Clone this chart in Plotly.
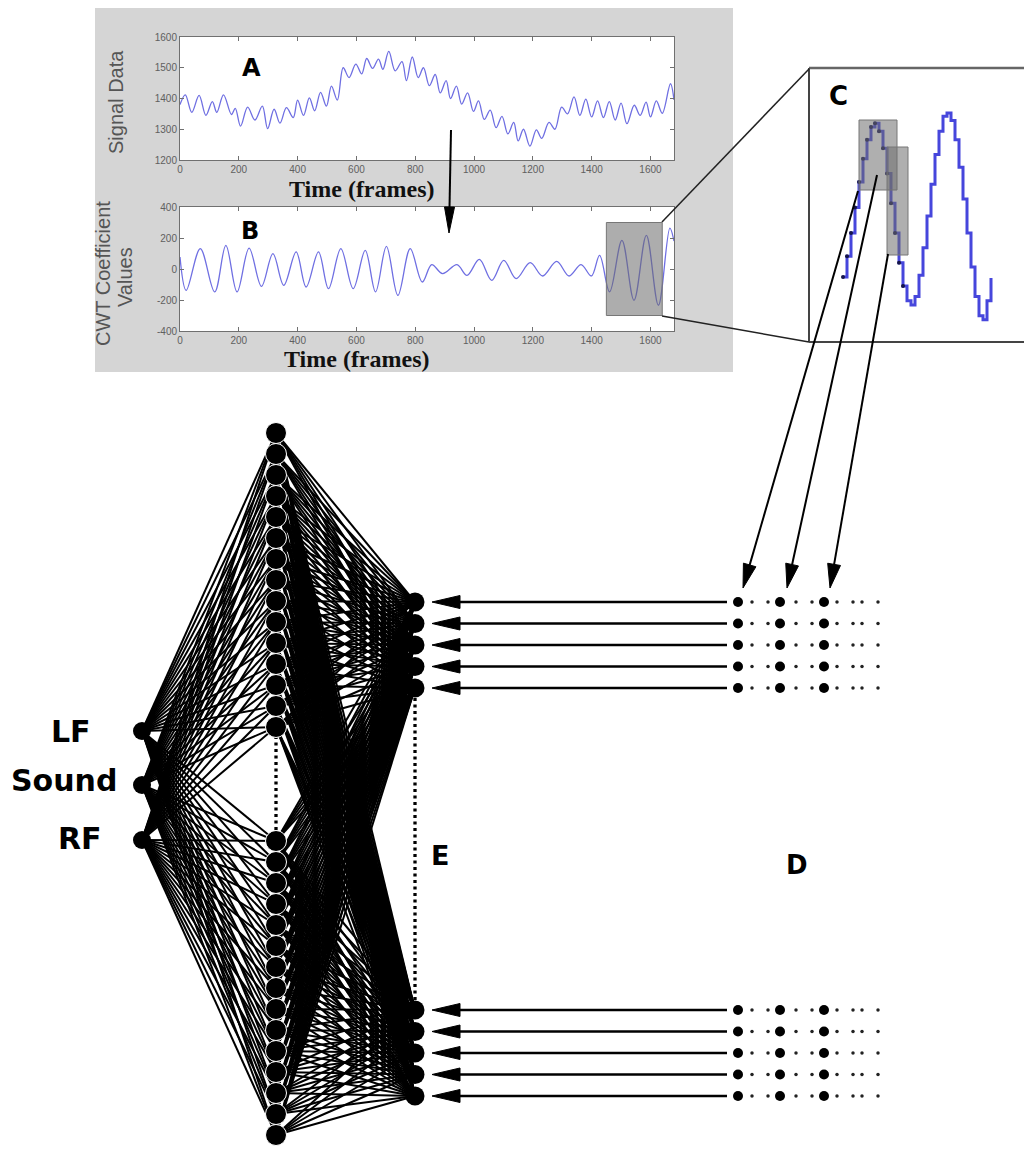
import math
import plotly.graph_objects as go

W, H = 1024, 1149

# ---------------- data ----------------
A_frames = [0, 18, 40, 65, 88, 110, 125, 148, 175, 188,
            206, 230, 255, 280, 298, 320, 340, 362, 385, 400,
            420, 440, 458, 478, 498, 515, 535, 555, 575, 598,
            618, 635, 655, 675, 690, 710, 732, 755, 770, 790,
            810, 828, 848, 868, 885, 905, 920, 940, 958, 978,
            998, 1015, 1035, 1055, 1075, 1095, 1115, 1135, 1150, 1168,
            1190, 1212, 1230, 1255, 1275, 1298, 1318, 1340, 1360, 1380,
            1400, 1420, 1440, 1460, 1480, 1500, 1520, 1545, 1565, 1585,
            1600, 1620, 1640, 1668, 1680]
A_values = [1380, 1412, 1355, 1410, 1345, 1390, 1355, 1412, 1348, 1368,
            1310, 1372, 1330, 1375, 1302, 1365, 1320, 1370, 1338, 1395,
            1345, 1402, 1360, 1420, 1375, 1440, 1395, 1500, 1468, 1512,
            1480, 1530, 1498, 1528, 1495, 1553, 1490, 1520, 1458, 1535,
            1468, 1500, 1442, 1478, 1418, 1458, 1400, 1440, 1382, 1418,
            1358, 1392, 1332, 1362, 1305, 1342, 1285, 1322, 1262, 1300,
            1245, 1298, 1270, 1322, 1300, 1372, 1350, 1405, 1345, 1398,
            1340, 1392, 1338, 1390, 1330, 1385, 1318, 1378, 1345, 1388,
            1340, 1392, 1352, 1448, 1395]

B_frames = [0, 21, 69, 118, 156, 194, 235, 277, 316, 353,
            395, 429, 471, 505, 547, 589, 630, 665, 702, 741,
            783, 824, 856, 893, 942, 976, 1018, 1060, 1101, 1143,
            1191, 1233, 1281, 1323, 1364, 1399, 1427, 1461, 1503, 1544,
            1586, 1627, 1666, 1680]
B_values = [77, -138, 131, -148, 153, -148, 135, -112, 99, -105,
            110, -116, 110, -127, 131, -127, 120, -148, 146, -170,
            131, -84, 28, -30, 28, -41, 62, -73, 56, -62,
            41, -45, 49, -45, 28, -45, 88, -148, 185, -202,
            217, -234, 264, 180]

# zoomed (sampled) CWT coefficients shown in panel C
C_steps = [-144, -95, -40, 20, 80, 135, 180, 210, 219,
           200, 160, 100, 30, -40, -110, -165, -200, -210,
           -190, -140, -75, 0, 75, 145, 200, 235, 243,
           225, 180, 115, 40, -40, -120, -190, -235, -245,
           -200, -146]
C_highlight_count = 16

frame_ticks = [0, 200, 400, 600, 800, 1000, 1200, 1400, 1600]
A_ticks = [1200, 1300, 1400, 1500, 1600]
B_ticks = [-400, -200, 0, 200, 400]
B_zoom_frames = [1450, 1640]
B_zoom_values = [-300, 300]

input_labels = ["LF", "Sound", "RF"]
HIDDEN_PER_GROUP = 15
E_PER_GROUP = 5

# ---------------- layout helpers ----------------
def dom_x(a, b):
    return [a / W, b / W]

def dom_y(top, bottom):
    return [1 - bottom / H, 1 - top / H]

fig = go.Figure()

# ---------------- network geometry ----------------
in_x = 142
in_y = [731, 785, 840]
hid_x = 276
hid_y = [433 + 21 * k for k in range(HIDDEN_PER_GROUP)] + \
        [841 + 21 * k for k in range(HIDDEN_PER_GROUP)]
e_x = 415
e_y = [602 + 21.5 * k for k in range(E_PER_GROUP)] + \
      [1010 + 21.5 * k for k in range(E_PER_GROUP)]

lx, ly = [], []
for hy in hid_y:
    for iy in in_y:
        lx += [in_x, hid_x, None]
        ly += [iy, hy, None]
    for ey in e_y:
        lx += [hid_x, e_x, None]
        ly += [hy, ey, None]
fig.add_trace(go.Scatter(x=lx, y=ly, mode="lines",
                         line=dict(color="black", width=2.0),
                         hoverinfo="skip", xaxis="x", yaxis="y"))

hid_sizes = [21 if (i == 0 or i == len(hid_y) - 1) else 21 for i in range(len(hid_y))]
fig.add_trace(go.Scatter(x=[hid_x] * len(hid_y), y=hid_y, mode="markers",
                         marker=dict(color="black", size=hid_sizes, opacity=1),
                         hoverinfo="skip", xaxis="x", yaxis="y"))
fig.add_trace(go.Scatter(x=[e_x] * len(e_y), y=e_y, mode="markers",
                         marker=dict(color="black", size=19, opacity=1),
                         hoverinfo="skip", xaxis="x", yaxis="y"))
fig.add_trace(go.Scatter(x=[in_x] * len(in_y), y=in_y, mode="markers",
                         marker=dict(color="black", size=18, opacity=1),
                         hoverinfo="skip", xaxis="x", yaxis="y"))

# D sample dots
big_cols = [738, 780, 824]
small_cols = [752, 768, 796, 812, 837, 853, 862, 878]
dbx, dby, dsx, dsy = [], [], [], []
for y in e_y:
    for x in big_cols:
        dbx.append(x); dby.append(y)
    for x in small_cols:
        dsx.append(x); dsy.append(y)
fig.add_trace(go.Scatter(x=dbx, y=dby, mode="markers",
                         marker=dict(color="black", size=10, opacity=1),
                         hoverinfo="skip", xaxis="x", yaxis="y"))
fig.add_trace(go.Scatter(x=dsx, y=dsy, mode="markers",
                         marker=dict(color="#222", size=3.5, opacity=1),
                         hoverinfo="skip", xaxis="x", yaxis="y"))

# ---------------- signal panels ----------------
sig_color = "#6f6fe2"
fig.add_trace(go.Scatter(x=A_frames, y=A_values, mode="lines",
                         line=dict(color=sig_color, width=1.3, shape="spline", smoothing=1.0),
                         hoverinfo="skip", xaxis="x2", yaxis="y2"))
fig.add_trace(go.Scatter(x=B_frames, y=B_values, mode="lines",
                         line=dict(color=sig_color, width=1.3, shape="spline", smoothing=1.0),
                         hoverinfo="skip", xaxis="x3", yaxis="y3"))
c_idx = list(range(len(C_steps)))
fig.add_trace(go.Scatter(x=c_idx, y=C_steps, mode="lines",
                         line=dict(color="#4646dc", width=3, shape="hv"),
                         hoverinfo="skip", xaxis="x4", yaxis="y4"))
fig.add_trace(go.Scatter(x=c_idx[:C_highlight_count], y=C_steps[:C_highlight_count],
                         mode="markers", marker=dict(color="#15154a", size=4, opacity=1),
                         hoverinfo="skip", xaxis="x4", yaxis="y4"))

# ---------------- axes ----------------
tick_font = dict(family="Liberation Sans, Arial", size=10, color="#606060")
common = dict(showline=True, linecolor="#707070", linewidth=1, mirror="ticks",
              ticks="inside", ticklen=4, tickcolor="#707070", showgrid=False,
              zeroline=False, tickfont=tick_font, fixedrange=True, automargin=False)

fig.update_layout(
    width=W, height=H, autosize=False,
    margin=dict(l=0, r=0, t=0, b=0, pad=0, autoexpand=False),
    paper_bgcolor="white", plot_bgcolor="rgba(0,0,0,0)",
    showlegend=False,
    xaxis=dict(domain=[0, 1], range=[0, W], visible=False, fixedrange=True,
               automargin=False),
    yaxis=dict(domain=[0, 1], range=[H, 0], visible=False, fixedrange=True,
               automargin=False),
    xaxis2=dict(domain=dom_x(180, 674), anchor="y2", range=[0, 1680],
                tickvals=frame_ticks, **common),
    yaxis2=dict(domain=dom_y(37, 160), anchor="x2", range=[1200, 1600],
                tickvals=A_ticks, **common),
    xaxis3=dict(domain=dom_x(180, 674), anchor="y3", range=[0, 1680],
                tickvals=frame_ticks, **common),
    yaxis3=dict(domain=dom_y(207, 331), anchor="x3", range=[-400, 400],
                tickvals=B_ticks, ticktext=[str(v) for v in B_ticks], **common),
    xaxis4=dict(domain=[809 / W, 1.0], anchor="y4", range=[-8.5, 45.25],
                visible=False, fixedrange=True),
    yaxis4=dict(domain=dom_y(68, 342), anchor="x4", range=[-297.2, 349.1],
                visible=False, fixedrange=True),
)

shapes = []
# gray background panel behind A and B
shapes.append(dict(type="rect", xref="x", yref="y", x0=95, x1=733, y0=8, y1=372,
                   fillcolor="#d5d5d5", line=dict(width=0), layer="below"))
# white plotting areas
shapes.append(dict(type="rect", xref="x2", yref="y2", x0=0, x1=1680, y0=1200, y1=1600,
                   fillcolor="white", line=dict(width=0), layer="below"))
shapes.append(dict(type="rect", xref="x3", yref="y3", x0=0, x1=1680, y0=-400, y1=400,
                   fillcolor="white", line=dict(width=0), layer="below"))
# zoom window in B
shapes.append(dict(type="rect", xref="x3", yref="y3",
                   x0=B_zoom_frames[0], x1=B_zoom_frames[1],
                   y0=B_zoom_values[0], y1=B_zoom_values[1],
                   fillcolor="rgba(105,105,105,0.55)", line=dict(color="#777", width=1),
                   layer="above"))
# panel C frame (open to the right edge)
shapes.append(dict(type="line", xref="x", yref="y", x0=809, x1=W, y0=68, y1=68,
                   line=dict(color="#666", width=2.5), layer="below"))
shapes.append(dict(type="line", xref="x", yref="y", x0=809, x1=W, y0=342, y1=342,
                   line=dict(color="#444", width=2), layer="below"))
shapes.append(dict(type="line", xref="x", yref="y", x0=809, x1=809, y0=68, y1=342,
                   line=dict(color="#444", width=2), layer="below"))
# zoom connector lines
shapes.append(dict(type="line", xref="x", yref="y", x0=662, y0=222, x1=809, y1=69,
                   line=dict(color="#222", width=1.5), layer="above"))
shapes.append(dict(type="line", xref="x", yref="y", x0=662, y0=316, x1=809, y1=342,
                   line=dict(color="#222", width=1.5), layer="above"))
# sampling windows in C
shapes.append(dict(type="rect", xref="x", yref="y", x0=859, x1=897, y0=120, y1=190,
                   fillcolor="rgba(110,110,110,0.55)", line=dict(color="#777", width=1),
                   layer="above"))
shapes.append(dict(type="rect", xref="x", yref="y", x0=887, x1=908, y0=147, y1=255,
                   fillcolor="rgba(110,110,110,0.55)", line=dict(color="#777", width=1),
                   layer="above"))
# dotted continuation lines
shapes.append(dict(type="line", xref="x", yref="y", x0=hid_x, x1=hid_x, y0=736, y1=833,
                   line=dict(color="black", width=3.3, dash="3px,3.5px"), layer="below"))
shapes.append(dict(type="line", xref="x", yref="y", x0=e_x, x1=e_x, y0=698, y1=1002,
                   line=dict(color="black", width=3.3, dash="3px,3.5px"), layer="below"))


def arrow(x0, y0, tx, ty, head_len, half_w, width):
    dx, dy = tx - x0, ty - y0
    d = math.hypot(dx, dy)
    ux, uy = dx / d, dy / d
    bx, by = tx - ux * head_len, ty - uy * head_len
    px, py = -uy, ux
    shapes.append(dict(type="line", xref="x", yref="y", x0=x0, y0=y0,
                       x1=bx + ux * 2, y1=by + uy * 2,
                       line=dict(color="black", width=width), layer="above"))
    path = (f"M{tx:.2f},{ty:.2f} L{bx + px * half_w:.2f},{by + py * half_w:.2f} "
            f"L{bx - px * half_w:.2f},{by - py * half_w:.2f} Z")
    shapes.append(dict(type="path", xref="x", yref="y", path=path,
                       fillcolor="black", line=dict(color="black", width=1),
                       layer="above"))

# A -> B arrow
arrow(451, 130, 449, 233, 26, 5, 2)
# C -> D arrows
arrow(858, 191, 743, 588, 24, 6.5, 2)
arrow(877, 175, 787, 588, 24, 6.5, 2)
arrow(888, 254, 830, 588, 24, 6.5, 2)
# D -> E arrows
for y in e_y:
    arrow(727, y, 432, y, 28, 6.5, 2.4)

fig.update_layout(shapes=shapes)

# ---------------- text ----------------
bold = "DejaVu Sans"
ann = []

def label(text, x, y, size, family=bold, color="black", angle=0, weight="bold"):
    ann.append(dict(text=text, x=x, y=y, xref="x", yref="y", showarrow=False,
                    xanchor="center", yanchor="middle", textangle=angle,
                    font=dict(family=family, size=size, color=color, weight=weight)))

label("A", 251, 68, 24)
label("B", 250, 231, 24)
label("C", 838, 96, 26)
label("D", 797, 865, 26)
label("E", 440, 855, 27)
label(input_labels[0], 71, 731, 30)
label(input_labels[1], 64, 780, 30)
label(input_labels[2], 80, 838, 30)
label("Time (frames)", 362, 189, 24, family="Liberation Serif", color="#111")
label("Time (frames)", 357, 359, 24, family="Liberation Serif", color="#111")
label("Signal Data", 116, 102, 20, family="Liberation Sans", color="#555",
      angle=-90, weight="normal")
label("CWT Coefficient", 103, 274, 20, family="Liberation Sans", color="#555",
      angle=-90, weight="normal")
label("Values", 125, 277, 20, family="Liberation Sans", color="#555",
      angle=-90, weight="normal")

fig.update_layout(annotations=ann)

fig.write_html("out.html", config={"displayModeBar": False, "responsive": False},
               post_script="document.body.style.margin='0px';"
                           "document.body.style.padding='0px';"
                           "document.body.style.overflow='hidden';")
